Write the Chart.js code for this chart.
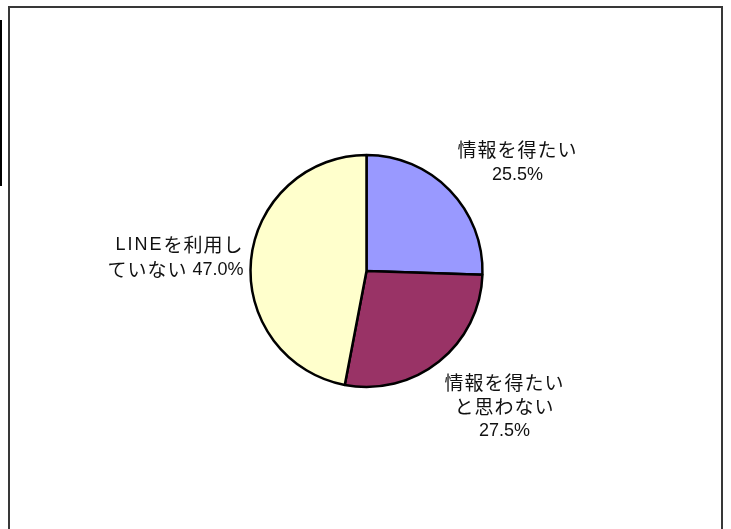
<!DOCTYPE html>
<html lang="ja">
<head>
<meta charset="utf-8">
<title>LINE 情報</title>
<script src="https://cdn.jsdelivr.net/npm/chart.js@4/dist/chart.umd.min.js"></script>
<style>
    html, body { margin: 0; padding: 0; background: #fff; }
    #wrap { position: relative; width: 731px; height: 529px; overflow: hidden; }
    #frame { position: absolute; left: 8px; top: 6px; width: 715px; height: 540px;
             border: 2px solid #383838; box-sizing: border-box; }
    #edge { position: absolute; left: 0; top: 20px; width: 2px; height: 166px; background: #000; }
    canvas { position: absolute; left: 0; top: 0; }
</style>
</head>
<body>
<div id="wrap">
    <div id="edge"></div>
    <div id="frame"></div>
    <canvas id="pie" width="731" height="529"></canvas>
</div>
<script>
// --- data ---
const categories = ['情報を得たい', '情報を得たいと思わない', 'LINEを利用していない'];
const values = [25.5, 27.5, 47.0];
// how each category name wraps in the label
const labelLines = [
    ['情報を得たい'],
    ['情報を得たい', 'と思わない'],
    ['LINEを利用し', 'ていない']
];
// percentage on its own line, or joined to the last line
const pctOwnLine = [true, true, false];
const colors = ['#9999FF', '#993366', '#FFFFCC'];

// label placement relative to the pie centre (px)
const labelPlace = [
    { dx: 151, dy: -121, align: 'center', lh: 25 },
    { dx: 138, dy: 112, align: 'center', lh: 24 },
    { dx: -123, dy: -26, align: 'right', lh: 25 }
];

// fonts per kind of run: japanese, latin letters, digits & signs
const runStyle = {
    jp:  { font: '19px "Noto Sans CJK JP", sans-serif', spacing: '1px' },
    abc: { font: '18px "Liberation Sans", sans-serif', spacing: '2px' },
    num: { font: '18px "Liberation Sans", sans-serif', spacing: '0px' }
};

const splitRuns = (text) => {
    const out = [];
    const re = /[A-Za-z]+|[\x20-\x7E]+|[^\x00-\x7F]+/g;
    let m;
    while ((m = re.exec(text)) !== null) {
        const t = m[0];
        const kind = /^[A-Za-z]/.test(t) ? 'abc' : (/^[\x20-\x7E]/.test(t) ? 'num' : 'jp');
        out.push({ t, kind });
    }
    return out;
};

const pieLabels = {
    id: 'pieLabels',
    afterDatasetsDraw(chart) {
        const ctx = chart.ctx;
        const meta = chart.getDatasetMeta(0);
        ctx.save();
        ctx.fillStyle = '#111';
        ctx.textBaseline = 'middle';
        ctx.textAlign = 'left';
        meta.data.forEach((arc, i) => {
            const pct = values[i].toFixed(1) + '%';
            const lines = labelLines[i].slice();
            if (pctOwnLine[i]) lines.push(pct);
            else lines[lines.length - 1] += ' ' + pct;
            const p = labelPlace[i];
            lines.forEach((line, k) => {
                const runs = splitRuns(line);
                let w = 0;
                runs.forEach(r => {
                    ctx.font = runStyle[r.kind].font;
                    ctx.letterSpacing = runStyle[r.kind].spacing;
                    r.w = ctx.measureText(r.t).width;
                    w += r.w;
                });
                let x = arc.x + p.dx;
                if (p.align === 'center') x -= w / 2;
                else if (p.align === 'right') x -= w;
                const y = arc.y + p.dy + k * p.lh;
                runs.forEach(r => {
                    ctx.font = runStyle[r.kind].font;
                    ctx.letterSpacing = runStyle[r.kind].spacing;
                    ctx.fillText(r.t, x, y);
                    x += r.w;
                });
            });
        });
        ctx.restore();
    }
};

new Chart(document.getElementById('pie'), {
    type: 'pie',
    data: {
        labels: categories,
        datasets: [{
            data: values,
            backgroundColor: colors,
            borderColor: '#000',
            borderWidth: 2.5
        }]
    },
    options: {
        responsive: false,
        animation: false,
        radius: 116,
        layout: { padding: { left: 100, right: 98, top: 100, bottom: 87 } },
        plugins: {
            legend: { display: false },
            tooltip: { enabled: false }
        }
    },
    plugins: [pieLabels]
});
</script>
</body>
</html>
